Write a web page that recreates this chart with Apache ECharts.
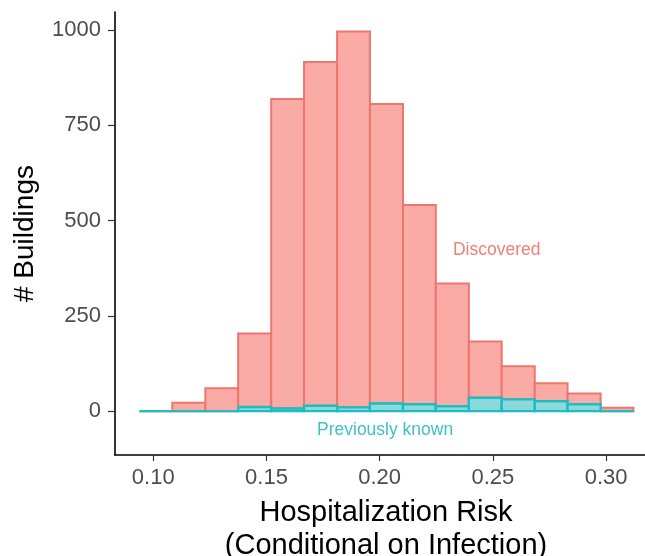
<!DOCTYPE html>
<html>
<head>
<meta charset="utf-8">
<script src="https://cdn.jsdelivr.net/npm/echarts@6/dist/echarts.min.js"></script>
<style>
html, body { margin: 0; padding: 0; background: #fff; }
#main { width: 645px; height: 556px; }
</style>
</head>
<body>
<div id="main"></div>
<script>
// histogram bin edges (hospitalization risk)
var binEdges = [0.0939, 0.1084, 0.1230, 0.1375, 0.1521, 0.1666, 0.1812, 0.1957,
                0.2103, 0.2248, 0.2394, 0.2539, 0.2685, 0.2830, 0.2976, 0.3121];
// # buildings per bin
var previouslyKnown = [0, 0, 0, 11, 7, 14, 10, 20, 18, 13, 35, 31, 26, 18, 0];
var discovered = [0, 22, 60, 193, 812, 902, 986, 786, 523, 322, 148, 87, 47, 28, 9];

var xTicks = [0.10, 0.15, 0.20, 0.25, 0.30];
var yTicks = [0, 250, 500, 750, 1000];

// text labels placed in data coords
var labelNames = ['Discovered', 'Previously known'];
var labelX = [0.2517, 0.2024];
var labelY = [423, -50];

var FONT = '"Liberation Sans", Arial, Helvetica, sans-serif';
var RED_FILL = '#FAABA6', RED_LINE = '#F0756D';
var TEAL_FILL = '#8CD9DB', TEAL_LINE = '#1DBDC2';

var knownData = [], discData = [];
for (var i = 0; i < previouslyKnown.length; i++) {
    knownData.push([binEdges[i], binEdges[i + 1], 0, previouslyKnown[i]]);
    discData.push([binEdges[i], binEdges[i + 1], previouslyKnown[i], previouslyKnown[i] + discovered[i]]);
}
var labelData = labelNames.map(function (n, i) { return [labelX[i], labelY[i], n]; });

function rectItem(fill, stroke, lw) {
    return function (params, api) {
        var a = api.coord([api.value(0), api.value(3)]);
        var b = api.coord([api.value(1), api.value(2)]);
        return {
            type: 'rect',
            shape: { x: a[0], y: a[1], width: b[0] - a[0], height: b[1] - a[1] },
            style: { fill: fill, stroke: stroke, lineWidth: lw }
        };
    };
}

var chart = echarts.init(document.getElementById('main'));

var option = {
    backgroundColor: '#fff',
    animation: false,
    textStyle: { fontFamily: FONT },
    grid: { left: 115, top: 12, right: 0, bottom: 101, outerBoundsMode: 'none', containLabel: false },
    xAxis: {
        type: 'value',
        min: 0.0831,
        max: 0.3172,
        name: 'Hospitalization Risk\n(Conditional on Infection)',
        nameLocation: 'middle',
        nameGap: 41,
        nameTextStyle: { fontSize: 29, color: '#000', lineHeight: 33, fontFamily: FONT, padding: [0, 0, 0, 12] },
        axisLine: { onZero: false, lineStyle: { color: '#000', width: 1.6 } },
        axisTick: { show: true, length: 6, customValues: xTicks, lineStyle: { color: '#333', width: 1.2 } },
        axisLabel: {
            customValues: xTicks,
            margin: 12,
            fontSize: 22,
            color: '#4D4D4D',
            fontFamily: FONT,
            formatter: function (v) { return v.toFixed(2); }
        },
        splitLine: { show: false }
    },
    yAxis: {
        type: 'value',
        min: -115,
        max: 1047,
        name: '# Buildings',
        nameLocation: 'middle',
        nameRotate: 90,
        nameGap: 76,
        nameTextStyle: { fontSize: 28, color: '#000', fontFamily: FONT },
        axisLine: { show: true, onZero: false, lineStyle: { color: '#000', width: 1.6 } },
        axisTick: { show: true, length: 7, customValues: yTicks, lineStyle: { color: '#333', width: 1.2 } },
        axisLabel: {
            customValues: yTicks,
            margin: 14,
            fontSize: 22,
            color: '#4D4D4D',
            fontFamily: FONT,
            formatter: function (v) { return String(v); }
        },
        splitLine: { show: false }
    },
    series: [
        {
            type: 'custom',
            name: 'Discovered',
            renderItem: rectItem(RED_FILL, RED_LINE, 2),
            encode: { x: [0, 1], y: [2, 3] },
            data: discData,
            z: 2
        },
        {
            type: 'custom',
            name: 'Previously known',
            renderItem: rectItem(TEAL_FILL, TEAL_LINE, 2.4),
            encode: { x: [0, 1], y: [2, 3] },
            data: knownData,
            z: 3
        },
        {
            type: 'custom',
            name: 'labels',
            renderItem: function (params, api) {
                var p = api.coord([api.value(0), api.value(1)]);
                return {
                    type: 'text',
                    x: p[0],
                    y: p[1],
                    style: {
                        text: labelNames[params.dataIndex],
                        fill: params.dataIndex === 0 ? '#EE817A' : '#3EC2C7',
                        fontSize: 17.5,
                        fontFamily: FONT,
                        align: 'center',
                        verticalAlign: 'middle'
                    }
                };
            },
            encode: { x: 0, y: 1 },
            data: labelData,
            z: 4
        }
    ]
};

chart.setOption(option);
</script>
</body>
</html>
